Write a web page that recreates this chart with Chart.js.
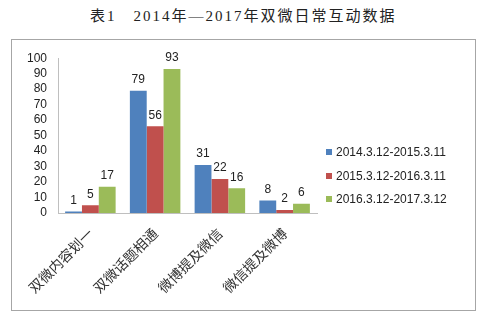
<!DOCTYPE html>
<html>
<head>
<meta charset="utf-8">
<script src="https://cdn.jsdelivr.net/npm/chart.js@4"></script>
<style>
  body { margin: 0; background: #fff; width: 497px; height: 315px; position: relative; overflow: hidden; }
  #title {
    position: absolute; left: 90px; top: 4px;
    font: 15px "Liberation Serif", "Noto Sans CJK SC", serif;
    letter-spacing: 2px; color: #222; white-space: nowrap;
  }
  #frame {
    position: absolute; left: 11px; top: 39px; width: 465px; height: 272px;
    box-sizing: border-box; border: 1px solid #a6a6a6;
  }
  #chart { position: absolute; left: 0; top: 0; }
  .leg { position: absolute; left: 326px; font: 12px "Liberation Sans", sans-serif; color: #222; white-space: nowrap; }
  .leg i { display: inline-block; width: 6px; height: 6px; margin-right: 4px; vertical-align: 1px; }
</style>
</head>
<body>
<div id="title">表1　2014年—2017年双微日常互动数据</div>
<div id="frame">
  <canvas id="chart" width="463" height="270"></canvas>
</div>
<script>
const categories = ['双微内容划一', '双微话题相通', '微博提及微信', '微信提及微博'];
const periods = ['2014.3.12-2015.3.11', '2015.3.12-2016.3.11', '2016.3.12-2017.3.12'];
const values2014 = [1, 79, 31, 8];
const values2015 = [5, 56, 22, 2];
const values2016 = [17, 93, 16, 6];
const colors = ['#4F81BD', '#C0504D', '#9BBB59'];

const series = [values2014, values2015, values2016];

// value labels above every bar
const barLabels = {
  id: 'barLabels',
  afterDatasetsDraw(chart) {
    const ctx = chart.ctx;
    ctx.save();
    ctx.font = '12px "Liberation Sans", sans-serif';
    ctx.fillStyle = '#222';
    ctx.textAlign = 'center';
    ctx.textBaseline = 'bottom';
    chart.data.datasets.forEach((ds, i) => {
      chart.getDatasetMeta(i).data.forEach((bar, j) => {
        ctx.fillText(String(ds.data[j]), bar.x, bar.y - 5);
      });
    });
    ctx.restore();
  }
};

new Chart(document.getElementById('chart'), {
  type: 'bar',
  data: {
    labels: categories,
    datasets: series.map((data, i) => ({
      label: periods[i],
      data,
      backgroundColor: colors[i],
      borderWidth: 0,
      categoryPercentage: 0.78,
      barPercentage: 1,
    }))
  },
  options: {
    responsive: false,
    animation: false,
    layout: { padding: { top: 13, right: 158, bottom: 0, left: 12 } },
    plugins: {
      legend: { display: false },
      tooltip: { enabled: false },
    },
    scales: {
      x: {
        grid: { display: false, drawTicks: false },
        border: { color: '#bfbfbf', width: 1 },
        ticks: {
          color: '#333',
          font: { size: 14, family: '"Noto Sans CJK SC", sans-serif' },
          minRotation: 45,
          maxRotation: 45,
          padding: 12,
        },
        afterFit(scale) { scale.height = 97; },
      },
      y: {
        min: 0,
        max: 100,
        grid: { display: false, drawTicks: false },
        border: { color: '#bfbfbf', width: 1 },
        ticks: {
          stepSize: 10,
          autoSkip: false,
          color: '#222',
          padding: 11,
          font: { size: 12, family: '"Liberation Sans", sans-serif' },
        },
        afterFit(scale) { scale.width = 34; },
      }
    }
  },
  plugins: [barLabels]
});

// legend
const legendTops = [145, 169, 192];
periods.forEach((p, i) => {
  const el = document.createElement('div');
  el.className = 'leg';
  el.style.top = legendTops[i] + 'px';
  el.innerHTML = '<i style="background:' + colors[i] + '"></i>' + p;
  document.body.appendChild(el);
});
</script>
</body>
</html>
